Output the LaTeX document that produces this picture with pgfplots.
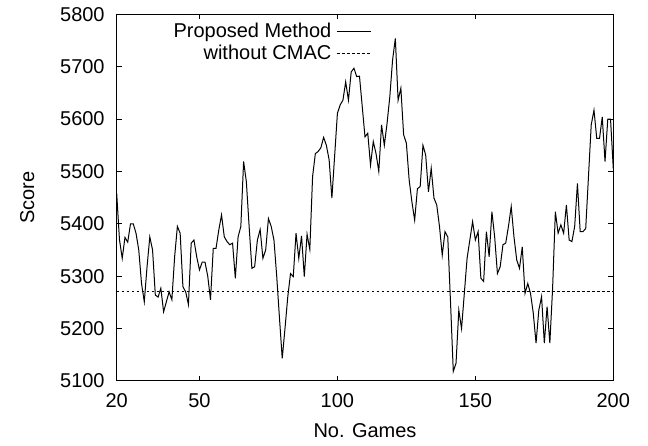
\documentclass[border=0pt]{standalone}
\usepackage{pgfplots}
\pgfplotsset{compat=1.18}
\usepackage{pgfplotstable}
\usepackage{fontspec}
\setmainfont{Liberation Sans}
\pgfplotstableread{
g s
20 5458
21 5370
22 5334
23 5374
24 5365
25 5400
26 5400
27 5382
28 5350
29 5286
30 5251
31 5318
32 5375
33 5350
34 5264
35 5260
36 5277
37 5232
38 5251
39 5270
40 5255
41 5337
42 5395
43 5382
44 5280
45 5270
46 5246
47 5363
48 5369
49 5337
50 5312
51 5327
52 5327
53 5300
54 5255
55 5353
56 5353
57 5388
58 5417
59 5375
60 5366
61 5360
62 5363
63 5296
64 5375
65 5395
66 5519
67 5480
68 5395
69 5315
70 5318
71 5369
72 5389
73 5334
74 5350
75 5410
76 5395
77 5369
78 5300
79 5220
80 5143
81 5200
82 5260
83 5305
84 5299
85 5382
86 5334
87 5377
88 5299
89 5380
90 5351
91 5490
92 5534
93 5538
94 5545
95 5565
96 5550
97 5522
98 5449
99 5530
100 5611
101 5627
102 5636
103 5671
104 5636
105 5690
106 5697
107 5681
108 5682
109 5624
110 5566
111 5573
112 5512
113 5557
114 5534
115 5500
116 5589
117 5550
118 5592
119 5643
120 5713
121 5754
122 5636
123 5659
124 5570
125 5554
126 5484
127 5442
128 5407
129 5467
130 5471
131 5550
132 5531
133 5461
134 5506
135 5449
136 5436
137 5395
138 5340
139 5385
140 5375
141 5250
142 5118
143 5134
144 5235
145 5200
146 5267
147 5334
148 5369
149 5404
150 5369
151 5385
152 5296
153 5290
154 5385
155 5337
156 5423
157 5375
158 5305
159 5318
160 5360
161 5363
162 5395
163 5433
164 5375
165 5331
166 5315
167 5356
168 5267
169 5286
170 5267
171 5229
172 5172
173 5235
174 5261
175 5172
176 5242
177 5172
178 5277
179 5423
180 5382
181 5398
182 5382
183 5436
184 5369
185 5366
186 5395
187 5477
188 5385
189 5385
190 5391
191 5490
192 5589
193 5617
194 5563
195 5563
196 5604
197 5519
198 5600
199 5600
200 5505
}\proposed
\begin{document}
\fontsize{10pt}{12pt}\selectfont
\begin{tikzpicture}
\path[use as bounding box] (-58.35pt,-32.5pt) rectangle (265.65pt,190.45pt);
\begin{axis}[
  at={(0,0)}, anchor=south west,
  scale only axis, width=248.3pt, height=183.3pt,
  xmin=20, xmax=200, ymin=5100, ymax=5800,
  xtick={20,50,100,150,200},
  ytick={5100,5200,5300,5400,5500,5600,5700,5800},
  tick align=inside, major tick length=2.5pt,
  axis line style={line width=0.5pt},
  every tick/.style={line width=0.5pt, black},
  /pgf/number format/assume math mode=true,
  /pgf/number format/.cd, 1000 sep={}, /pgfplots/.cd,
  scaled y ticks=false,
  xticklabel style={yshift=-3pt},
  yticklabel style={xshift=-2.5pt},
  xlabel={No. Games}, ylabel={Score},
  xlabel style={yshift=-1pt},
  ylabel style={yshift=6pt},
  legend style={draw=none, fill=none, at={(0.518,0.995)}, anchor=north east,
    inner sep=1pt, row sep=-1.5pt, column sep=0.5pt},
  legend cell align=right, legend plot pos=right,
  clip=true,
]
\addplot[black, line width=0.5pt, line join=miter] table[x=g, y=s] {\proposed};
\addlegendentry{Proposed Method}
\addplot[black, line width=0.5pt, dash pattern=on 1.4pt off 1.1pt] coordinates {(20,5270) (200,5270)};
\addlegendentry{without CMAC}
\end{axis}
\end{tikzpicture}
\end{document}
